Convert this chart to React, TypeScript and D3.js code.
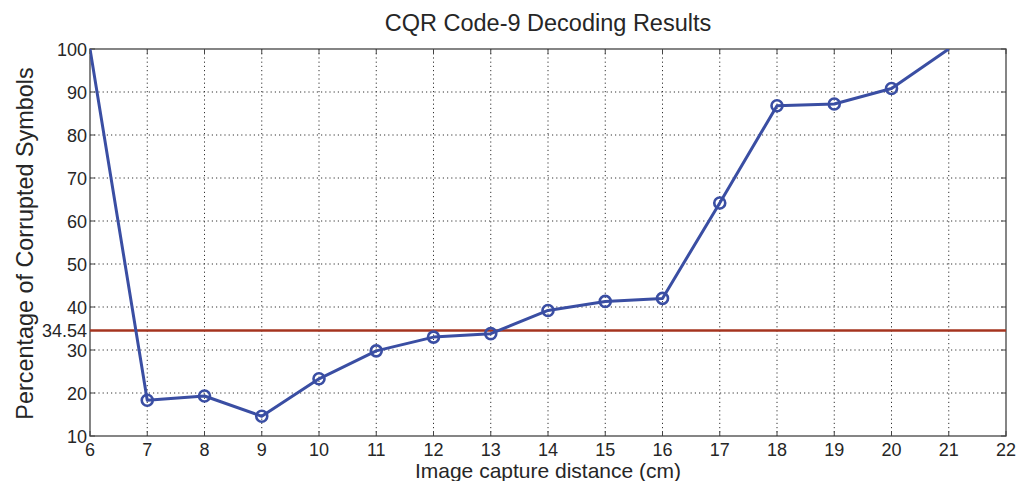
import * as d3 from "d3";

const distances = [6, 7, 8, 9, 10, 11, 12, 13, 14, 15, 16, 17, 18, 19, 20, 21];
const corrupted = [100, 18.3, 19.3, 14.6, 23.3, 29.8, 33.0, 33.8, 39.2, 41.3, 42.0, 64.2, 86.8, 87.2, 90.8, 100];
const xTicks = [6, 7, 8, 9, 10, 11, 12, 13, 14, 15, 16, 17, 18, 19, 20, 21, 22];
const yTicks = [10, 20, 30, 40, 50, 60, 70, 80, 90, 100];
const threshold = 34.54;

const width = 1016;
const height = 481;
const margin = { top: 49, right: 10, bottom: 45, left: 90 };

const font = "'Liberation Sans', Arial, sans-serif";
const axisColor = "#444";
const textColor = "#262626";

const App = () => {
  const x = d3.scaleLinear().domain([6, 22]).range([margin.left, width - margin.right]);
  const y = d3.scaleLinear().domain([10, 100]).range([height - margin.bottom, margin.top]);

  const points = distances.map((d, i) => ({ d, v: corrupted[i] }));
  const line = d3.line<{ d: number; v: number }>()
    .x(p => x(p.d))
    .y(p => y(p.v));

  const x0 = x(6), x1 = x(22), y0 = y(10), y1 = y(100);
  const tick = 5;

  return (
    <svg width={width} height={height} style={{ position: "absolute", left: 0, top: 0, background: "#fff" }}>
      <defs>
        <clipPath id="plot">
          <rect x={x0} y={y1} width={x1 - x0} height={y0 - y1} />
        </clipPath>
      </defs>
      <rect x={0} y={0} width={width} height={height} fill="#fff" />

      {/* grid */}
      <g stroke="#333" strokeWidth={1} strokeDasharray="1.2 3">
        {xTicks.slice(1, -1).map(t => (
          <line key={"gx" + t} x1={x(t)} x2={x(t)} y1={y1} y2={y0} />
        ))}
        {yTicks.slice(1, -1).map(t => (
          <line key={"gy" + t} x1={x0} x2={x1} y1={y(t)} y2={y(t)} />
        ))}
      </g>

      {/* ticks */}
      <g stroke={axisColor} strokeWidth={1}>
        {xTicks.map(t => (
          <g key={"tx" + t}>
            <line x1={x(t)} x2={x(t)} y1={y0} y2={y0 - tick} />
            <line x1={x(t)} x2={x(t)} y1={y1} y2={y1 + tick} />
          </g>
        ))}
        {yTicks.map(t => (
          <g key={"ty" + t}>
            <line x1={x0} x2={x0 + tick} y1={y(t)} y2={y(t)} />
            <line x1={x1} x2={x1 - tick} y1={y(t)} y2={y(t)} />
          </g>
        ))}
      </g>

      {/* frame */}
      <rect x={x0} y={y1} width={x1 - x0} height={y0 - y1} fill="none" stroke={axisColor} strokeWidth={1.3} />

      {/* threshold */}
      <line x1={x0} x2={x1} y1={y(threshold)} y2={y(threshold)} stroke="#a5341f" strokeWidth={2.6} />

      {/* data */}
      <g clipPath="url(#plot)">
        <path d={line(points) || ""} fill="none" stroke="#3a4ea3" strokeWidth={3} strokeLinejoin="round" />
      </g>
      <g fill="none" stroke="#3a4ea3" strokeWidth={2.6}>
        {points.filter(p => p.v < 100).map(p => (
          <circle key={"m" + p.d} cx={x(p.d)} cy={y(p.v)} r={5.5} />
        ))}
      </g>

      {/* tick labels */}
      <g fontFamily={font} fontSize={18} fill={textColor}>
        {xTicks.map(t => (
          <text key={"lx" + t} x={x(t)} y={y0 + 20} textAnchor="middle">{t}</text>
        ))}
        {yTicks.map(t => (
          <text key={"ly" + t} x={x0 - 3} y={y(t) + 7} textAnchor="end">{t}</text>
        ))}
        <text x={x0 - 3} y={y(threshold) + 7} textAnchor="end">{threshold.toFixed(2)}</text>
      </g>

      {/* titles */}
      <text x={(x0 + x1) / 2} y={31} textAnchor="middle" fontFamily={font} fontSize={23.5} fill={textColor}>
        CQR Code-9 Decoding Results
      </text>
      <text x={(x0 + x1) / 2} y={477.5} textAnchor="middle" fontFamily={font} fontSize={21} fill={textColor}>
        Image capture distance (cm)
      </text>
      <text
        transform={`translate(33,243.5) rotate(-90)`}
        textAnchor="middle"
        fontFamily={font}
        fontSize={23.4}
        fill={textColor}
      >
        Percentage of Corrupted Symbols
      </text>
    </svg>
  );
};

export default App;
